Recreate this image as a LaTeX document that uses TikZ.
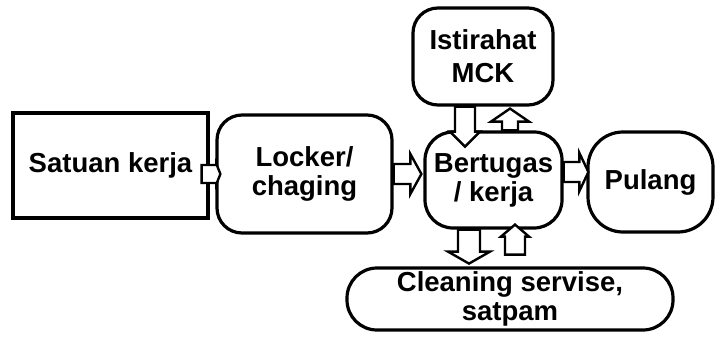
\documentclass[tikz,border=0pt]{standalone}
\usepackage{fontspec}
\setmainfont{Liberation Sans}
\usetikzlibrary{calc}
\tikzset{
  box/.style={draw, line width=3.2pt, fill=white, align=center, inner sep=0pt,
    font=\bfseries\fontsize{27.5}{29}\selectfont},
  barrow/.style={draw, line width=2.4pt, fill=white, line join=miter},
}
% #1 from, #2 to (tip), #3 shaft half width, #4 head half width, #5 head length
\newcommand\blockarr[5]{%
  \coordinate (bh) at ($(#2)!#5!(#1)$);
  \draw[barrow] ($(#1)!#3!90:(#2)$) -- ($(bh)!#3!90:(#2)$) -- ($(bh)!#4!90:(#2)$)
    -- (#2) -- ($(bh)!#4!-90:(#2)$) -- ($(bh)!#3!-90:(#2)$) -- ($(#1)!#3!-90:(#2)$) -- cycle;}
\begin{document}
\begin{tikzpicture}[x=1pt,y=-1pt]
\useasboundingbox[fill=white] (0,0) rectangle (715,345);
% boxes
\node[box, minimum width=195pt, minimum height=105pt] (sat) at (110.5,165.5) {\raisebox{6pt}{Satuan kerja}};
\node[box, rounded corners=25pt, minimum width=175pt, minimum height=118pt] (lock) at (304.5,174) {Locker/\\chaging};
\node[box, rounded corners=25pt, minimum width=140pt, minimum height=97pt] (mck) at (483,56.5) {Istirahat\\[4pt]MCK};
\node[box, rounded corners=28pt, minimum width=137pt, minimum height=96pt] (bert) at (493.5,180) {Bertugas\\/ kerja};
\node[box, rounded corners=35pt, minimum width=125pt, minimum height=100pt] (pul) at (650.5,182) {Pulang};
\node[box, rounded corners=30pt, minimum width=326pt, minimum height=62pt] (clean) at (510,299) {Cleaning servise,\\satpam};
% arrow end points
\coordinate (s1) at ($(sat.east)+(-8,8.5)$);
\coordinate (t1) at ($(lock.west)+(5,0)$);
\coordinate (s2) at (lock.east);
\coordinate (t2) at ($(bert.west |- lock.east)+(-2,0)$);
\coordinate (s3) at ($(bert.east)+(0,-8)$);
\coordinate (t3) at ($(pul.west |- s3)+(2,0)$);
\coordinate (s4) at ($(mck.south)+(-18,0)$);
\coordinate (t4) at ($(mck.south)+(-18,40)$);
\coordinate (s5) at ($(bert.north)+(16.5,0)$);
\coordinate (t5) at ($(mck.south)+(27,2)$);
\coordinate (s6) at ($(bert.south)+(-24.5,0)$);
\coordinate (t6) at ($(bert.south)+(-24.5,34)$);
\coordinate (s7) at ($(bert.south)+(21.5,25)$);
\coordinate (t7) at ($(bert.south)+(21.5,-5)$);
% block arrows
\blockarr{s1}{t1}{9pt}{10pt}{4pt}
\blockarr{s2}{t2}{10pt}{20pt}{11pt}
\blockarr{s3}{t3}{10pt}{19pt}{9pt}
\blockarr{s4}{t4}{10pt}{15pt}{15pt}
\blockarr{s5}{t5}{8pt}{19pt}{13pt}
\blockarr{s6}{t6}{11pt}{21pt}{12pt}
\blockarr{s7}{t7}{10pt}{14pt}{12pt}
\end{tikzpicture}
\end{document}
